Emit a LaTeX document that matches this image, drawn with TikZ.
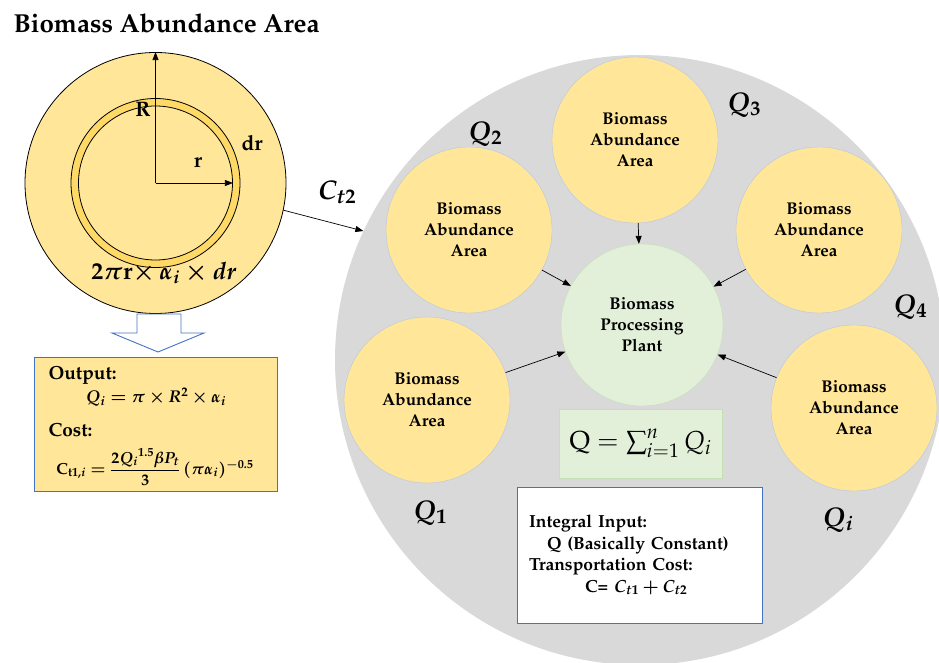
\documentclass[tikz,border=0pt]{standalone}
\usepackage[T1]{fontenc}
\usepackage{mathpazo}
\usepackage{amsmath,amssymb,bm}
\usepackage{xcolor}
\usepackage{tikz}
\usetikzlibrary{arrows.meta,positioning}
\definecolor{bay}{HTML}{FFE699}
\definecolor{ringy}{HTML}{FFD966}
\definecolor{fld}{HTML}{D9D9D9}
\definecolor{bpp}{HTML}{E2F0D9}
\definecolor{bppedge}{HTML}{C5E0B4}
\definecolor{cedge}{HTML}{B4C7E7}
\definecolor{bedge}{HTML}{4472C4}
\newcommand{\fsz}[2]{\fontsize{#1}{#2}\selectfont}

\begin{document}
\begin{tikzpicture}[x=1pt,y=-1pt,
  area/.style={circle,draw=cedge,fill=bay,minimum size=166,inner sep=0pt,
    align=center,font=\bfseries\fsz{17}{21}},
  qlbl/.style={font=\boldmath\fsz{27}{30}},
  lbl/.style={font=\bfseries\fsz{21}{25}},
  txt/.style={anchor=base west,font=\bfseries\fsz{19}{23}},
  outbox/.style={rectangle,draw=bedge,fill=bay,line width=0.9pt},
  arr/.style={-{Triangle[length=8pt,width=6pt]},line width=0.7pt}]
  \useasboundingbox (0,0) rectangle (939,663);
  \node[anchor=base west,font=\bfseries\fsz{26}{30}] (title) at (10,33)
    {Biomass Abundance Area};
  % single abundance area
  \node[circle,draw,fill=bay,minimum size=261,line width=0.8pt] (src) at (155.5,183) {};
  \node[circle,draw,fill=ringy,minimum size=169,line width=0.8pt] (outer) at (src.center) {};
  \node[circle,draw,fill=bay,minimum size=154,line width=0.8pt] (inner) at (src.center) {};
  \draw[arr] (src.center) -- (src.north);
  \draw[arr] (src.center) -- (inner.east);
  \node[lbl] (R) at (143,110) {R};
  \node[lbl] (r) at (198,163) {r};
  \node[lbl] (dr) at (252,143) {dr};
  \node[font=\boldmath\fsz{24}{28}] (shell) at (164,273)
    {$2\pi\mathbf{r}{\times}\,\alpha_i\times dr$};
  \draw[bedge,fill=white,line width=0.9pt] (137,314) -- (181,314) -- (181,333)
    -- (204,333) -- (158,352) -- (112,333) -- (137,333) -- cycle;
  \node[outbox,minimum width=243,minimum height=134] (out) at (155.5,424) {};
  \node[txt] (outl) at (45,379) {Output:};
  \node[font=\boldmath\fsz{17}{21}] (qi) at (156,397) {$Q_i=\pi\times R^2\times\alpha_i$};
  \node[txt] (costl) at (45,436) {Cost:};
  \node[font=\boldmath\fsz{16}{20}] (ct1) at (155,467)
    {$\mathrm{C}_{\mathbf{t1},i}=\dfrac{2{Q_i}^{1.5}\beta P_t}{3}\,(\pi\alpha_i)^{-0.5}$};
  % collection field
  \node[circle,fill=fld,minimum size=610] (field) at (640,360) {};
  \node[area] (a3) at (635,140) {Biomass\\Abundance\\Area};
  \node[area] (a2) at (469,230) {Biomass\\Abundance\\Area};
  \node[area] (a4) at (819,230) {Biomass\\Abundance\\Area};
  \node[area] (a1) at (427,400) {Biomass\\Abundance\\Area};
  \node[area] (ai) at (854,408) {Biomass\\Abundance\\Area};
  \node[area,fill=bpp,draw=bppedge,minimum size=162] (plant) at (642,325)
    {Biomass\\Processing\\Plant};
  \foreach \a in {a1,a2,a3,a4,ai}
    \draw[arr] (\a) -- (plant);
  \draw[arr] (src.-12) -- (field.155);
  \node[qlbl] (ct2) at (337,192) {$C_{t2}$};
  \node[qlbl] (q1) at (430,513) {$Q_1$};
  \node[qlbl] (q2) at (485,134) {$Q_2$};
  \node[qlbl] (q3) at (744,105) {$Q_3$};
  \node[qlbl] (q4) at (910,307) {$Q_4$};
  \node[qlbl] (qn) at (838,520) {$Q_i$};
  \node[rectangle,draw=bppedge,fill=bpp,minimum width=163,minimum height=69,
    font=\fsz{26}{30}] (sum) at (640.5,443.5) {$\mathrm{Q}=\sum_{i=1}^{n}Q_i$};
  \node[rectangle,draw=bedge,fill=white,line width=0.9pt,minimum width=245,
    minimum height=136,text width=221,inner xsep=12,align=left,
    font=\bfseries\boldmath\fsz{17.5}{21.5}] (info) at (639.5,555)
    {Integral Input:\\
     \hspace*{18pt}Q (Basically Constant)\\
     Transportation Cost:\\
     \hspace*{56pt}C= $C_{t1}+C_{t2}$};
\end{tikzpicture}
\end{document}
